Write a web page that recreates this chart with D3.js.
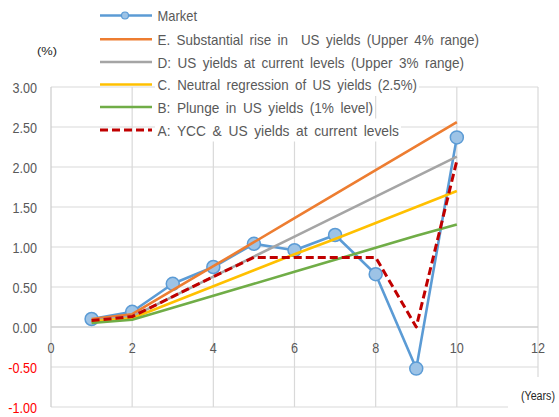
<!DOCTYPE html>
<html>
<head>
<meta charset="utf-8">
<script src="https://cdn.jsdelivr.net/npm/d3@7"></script>
<style>
  html, body { margin: 0; padding: 0; background: #fff; }
  svg { display: block; font-family: "Liberation Sans", Arial, sans-serif; }
</style>
</head>
<body>
<svg id="chart" width="559" height="417"></svg>
<script>
// Maturity (years) on the x axis
const years = [1, 2, 3, 4, 5, 6, 7, 8, 9, 10];

// Yield curve values (%)
const market = [0.10, 0.19, 0.54, 0.75, 1.04, 0.96, 1.15, 0.66, -0.52, 2.37];
const scenE  = [0.10, 0.16, 0.46, 0.76, 1.06, 1.36, 1.66, 1.96, 2.26, 2.56];
const scenD  = [0.08, 0.13, 0.38, 0.63, 0.88, 1.13, 1.38, 1.63, 1.88, 2.13];
const scenC  = [0.07, 0.11, 0.31, 0.51, 0.71, 0.91, 1.10, 1.30, 1.50, 1.70];
const scenB  = [0.05, 0.09, 0.24, 0.39, 0.54, 0.69, 0.84, 0.99, 1.14, 1.28];
const scenA  = [0.08, 0.13, 0.38, 0.63, 0.87, 0.87, 0.87, 0.87, 0.00, 2.08];

const seriesNames = [
  "Market",
  "E. Substantial rise in  US yields (Upper 4% range)",
  "D: US yields at current levels (Upper 3% range)",
  "C. Neutral regression of US yields (2.5%)",
  "B: Plunge in US yields (1% level)",
  "A: YCC & US yields at current levels"
];

// Axis ticks
const xTicks = [0, 2, 4, 6, 8, 10, 12];
const yTicks = [-1.00, -0.50, 0.00, 0.50, 1.00, 1.50, 2.00, 2.50, 3.00];

const svg = d3.select("#chart");

const x = d3.scaleLinear().domain([0, 12]).range([51, 538]);
const y = d3.scaleLinear().domain([-1, 3]).range([407, 87]);

const styles = [
  { color: "#5b9bd5", width: 2.6, dash: null },
  { color: "#ed7d31", width: 2.6, dash: null },
  { color: "#a5a5a5", width: 2.6, dash: null },
  { color: "#ffc000", width: 2.6, dash: null },
  { color: "#70ad47", width: 2.6, dash: null },
  { color: "#c00000", width: 3,   dash: "8,4" }
];
const seriesData = [market, scenE, scenD, scenC, scenB, scenA];

// Squeeze a text element horizontally, like a narrow typeface
function squeeze(sel, factor) {
  sel.each(function () {
    const w = this.getComputedTextLength();
    d3.select(this).attr("textLength", w * factor).attr("lengthAdjust", "spacingAndGlyphs");
  });
}
function fitWidth(sel, width) {
  sel.attr("textLength", width).attr("lengthAdjust", "spacingAndGlyphs");
}

// Gridlines
const grid = svg.append("g");
grid.selectAll("line.h").data(yTicks.filter(v => v !== 0)).join("line")
  .attr("x1", x(0)).attr("x2", x(12))
  .attr("y1", d => y(d)).attr("y2", d => y(d))
  .attr("stroke", "#d9d9d9").attr("stroke-width", 1.2);
grid.selectAll("line.v").data(xTicks.filter(v => v !== 0)).join("line")
  .attr("x1", d => x(d)).attr("x2", d => x(d))
  .attr("y1", y(3)).attr("y2", y(-1))
  .attr("stroke", "#d9d9d9").attr("stroke-width", 1.2);

// Axis lines
svg.append("line").attr("x1", x(0)).attr("x2", x(0)).attr("y1", y(3)).attr("y2", y(-1))
  .attr("stroke", "#cfcfcf").attr("stroke-width", 1.3);
svg.append("line").attr("x1", x(0)).attr("x2", x(12)).attr("y1", y(0)).attr("y2", y(0))
  .attr("stroke", "#cfcfcf").attr("stroke-width", 1.3);

// Y axis labels
svg.append("g").selectAll("text").data(yTicks).join("text")
  .attr("x", 37).attr("y", d => y(d) + 5.5)
  .attr("text-anchor", "end")
  .attr("font-size", 14)
  .attr("fill", d => d < 0 ? "#ff0000" : "#595959")
  .text(d => d.toFixed(2))
  .call(squeeze, 0.9);

// X axis labels
svg.append("g").selectAll("text").data(xTicks).join("text")
  .attr("x", d => x(d)).attr("y", y(0) + 26)
  .attr("text-anchor", "middle")
  .attr("font-size", 14)
  .attr("fill", "#595959")
  .text(d => d)
  .call(squeeze, 0.9);

// Unit labels
svg.append("text").attr("x", 37).attr("y", 55).attr("font-size", 11).attr("fill", "#262626")
  .text("(%)").call(fitWidth, 20);
svg.append("rect").attr("x", 508).attr("y", 377).attr("width", 51).attr("height", 40).attr("fill", "#fff");
svg.append("text").attr("x", 521).attr("y", 400).attr("font-size", 12).attr("fill", "#262626")
  .text("(Years)").call(fitWidth, 34);

// Series lines
const line = d3.line().x((d, i) => x(years[i])).y(d => y(d));
const plot = svg.append("g");
seriesData.forEach((vals, k) => {
  const s = styles[k];
  plot.append("path")
    .datum(vals)
    .attr("d", line)
    .attr("fill", "none")
    .attr("stroke", s.color)
    .attr("stroke-width", s.width)
    .attr("stroke-linejoin", "round")
    .attr("stroke-dasharray", s.dash);
  if (k === 0) {
    plot.append("g").selectAll("circle").data(vals).join("circle")
      .attr("cx", (d, i) => x(years[i])).attr("cy", d => y(d))
      .attr("r", 6.5)
      .attr("fill", "#9dc3e6")
      .attr("stroke", "#5b9bd5").attr("stroke-width", 1.5);
  }
});

// Legend
const legendY = [15.5, 39.3, 62, 84.5, 107, 130];
const legendTextEnd = [197, 479, 464, 417, 373, 399];
const legend = svg.append("g");
seriesNames.forEach((name, k) => {
  const s = styles[k];
  const yy = legendY[k];
  legend.append("rect")
    .attr("x", 155).attr("y", yy - 11.5)
    .attr("width", legendTextEnd[k] - 155 + 2).attr("height", 23)
    .attr("fill", "#fff");
  legend.append("line")
    .attr("x1", 100).attr("x2", 152).attr("y1", yy).attr("y2", yy)
    .attr("stroke", s.color).attr("stroke-width", s.width)
    .attr("stroke-dasharray", s.dash);
  if (k === 0) {
    legend.append("circle").attr("cx", 125).attr("cy", yy).attr("r", 3.5)
      .attr("fill", "#9dc3e6").attr("stroke", "#5b9bd5").attr("stroke-width", 1.2);
  }
  legend.append("text")
    .attr("x", 157.5).attr("y", yy + 5.5)
    .attr("font-size", 15)
    .attr("fill", "#595959")
    .attr("word-spacing", 3)
    .attr("xml:space", "preserve")
    .style("white-space", "pre")
    .text(name)
    .call(fitWidth, legendTextEnd[k] - 157.5);
});
</script>
</body>
</html>
